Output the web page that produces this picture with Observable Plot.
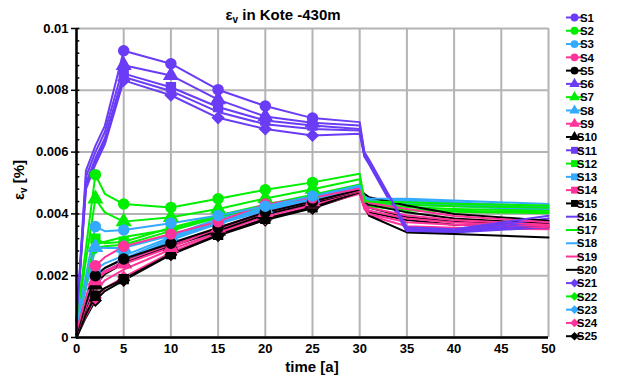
<!DOCTYPE html>
<html><head><meta charset="utf-8">
<script src="https://cdn.jsdelivr.net/npm/d3@7"></script>
<script src="https://cdn.jsdelivr.net/npm/@observablehq/plot@0.6"></script>
<style>body{margin:0;background:#fff}#chart{width:621px;height:378px}</style>
</head><body><div id="chart"></div>
<script>
// time points [a]
const times = [0, 1, 2, 3, 5, 10, 15, 20, 25, 30, 30.5, 31, 35, 40, 50];
// values in units of 0.001 %
const S1  = [0.5, 5.4, 6.2, 6.85, 9.28, 8.86, 8.02, 7.49, 7.10, 6.97, 6.0, 5.75, 3.57, 3.5, 3.94];
const S2  = [0.6, 2.9, 5.27, 4.65, 4.32, 4.21, 4.49, 4.78, 5.02, 5.30, 4.45, 4.4, 4.38, 4.33, 4.27];
const S3  = [0.5, 2.0, 3.59, 3.44, 3.48, 3.70, 3.95, 4.25, 4.58, 4.92, 4.55, 4.5, 4.49, 4.43, 4.32];
const S4  = [0.2, 1.3, 2.32, 2.6, 2.95, 3.35, 3.75, 4.32, 4.52, 4.82, 4.45, 4.35, 4.16, 3.93, 3.73];
const S5  = [0.1, 1.1, 2.0, 2.25, 2.54, 3.05, 3.55, 4.05, 4.40, 4.78, 4.65, 4.54, 4.27, 4.0, 3.78];
const S6  = [0.5, 5.2, 6.0, 6.65, 8.81, 8.48, 7.70, 7.15, 6.95, 6.86, 5.95, 5.7, 3.52, 3.47, 3.85];
const S7  = [0.5, 2.5, 4.49, 4.05, 3.75, 3.89, 4.16, 4.50, 4.80, 5.12, 4.4, 4.38, 4.3, 4.25, 4.2];
const S8  = [0.4, 1.6, 2.92, 2.9, 2.90, 3.30, 3.84, 4.18, 4.52, 4.88, 4.5, 4.47, 4.45, 4.38, 4.22];
const S9  = [0.1, 1.0, 1.84, 2.1, 2.38, 2.92, 3.55, 4.05, 4.40, 4.75, 4.3, 4.2, 3.95, 3.8, 3.65];
const S10 = [0.1, 0.95, 1.7, 2.05, 2.40, 2.95, 3.45, 3.98, 4.35, 4.75, 4.4, 4.3, 4.05, 3.85, 3.68];
const S11 = [0.5, 5.0, 5.8, 6.45, 8.54, 8.10, 7.46, 7.02, 6.86, 6.75, 5.9, 5.68, 3.48, 3.45, 3.75];
const S12 = [0.4, 1.8, 3.2, 3.05, 3.10, 3.55, 3.95, 4.30, 4.62, 4.95, 4.35, 4.32, 4.22, 4.16, 4.1];
const S13 = [0.3, 1.2, 2.2, 2.4, 2.65, 3.25, 3.78, 4.15, 4.50, 4.85, 4.47, 4.44, 4.4, 4.32, 4.18];
const S14 = [0.1, 1.0, 1.9, 2.15, 2.45, 3.0, 3.50, 4.0, 4.35, 4.72, 4.25, 4.1, 3.85, 3.72, 3.6];
const S15 = [0.0, 0.75, 1.35, 1.6, 1.89, 2.70, 3.32, 3.84, 4.21, 4.70, 4.35, 4.2, 3.9, 3.75, 3.6];
const S16 = [0.5, 4.9, 5.7, 6.35, 8.43, 7.98, 7.30, 6.90, 6.75, 6.70, 5.88, 5.65, 3.45, 3.42, 3.65];
const S17 = [0.4, 1.7, 3.0, 3.1, 3.25, 3.50, 3.90, 4.25, 4.58, 4.92, 4.3, 4.28, 4.15, 4.1, 4.05];
const S18 = [0.3, 1.1, 2.0, 2.25, 2.55, 3.20, 3.72, 4.12, 4.47, 4.83, 4.44, 4.4, 4.35, 4.28, 4.15];
const S19 = [0.1, 0.8, 1.5, 1.85, 2.20, 2.85, 3.40, 3.92, 4.30, 4.68, 4.2, 4.0, 3.73, 3.65, 3.57];
const S20 = [0.1, 1.0, 1.8, 2.1, 2.45, 3.0, 3.50, 4.0, 4.38, 4.76, 4.3, 3.94, 3.40, 3.35, 3.24];
const S21 = [0.5, 4.8, 5.6, 6.25, 8.32, 7.84, 7.11, 6.75, 6.54, 6.59, 5.85, 5.6, 3.42, 3.4, 3.57];
const S22 = [0.3, 1.6, 2.9, 2.95, 3.00, 3.45, 3.88, 4.22, 4.55, 4.90, 4.28, 4.25, 4.11, 4.07, 4.02];
const S23 = [0.2, 1.0, 1.9, 2.15, 2.45, 3.15, 3.68, 4.10, 4.45, 4.80, 4.4, 4.36, 4.3, 4.25, 4.12];
const S24 = [0.05, 0.7, 1.28, 1.6, 1.95, 2.75, 3.35, 3.85, 4.25, 4.65, 4.15, 3.95, 3.6, 3.55, 3.5];
const S25 = [0.0, 0.65, 1.2, 1.5, 1.85, 2.68, 3.30, 3.80, 4.18, 4.68, 4.25, 4.05, 3.8, 3.65, 3.55];

const seriesNames = ["S1","S2","S3","S4","S5","S6","S7","S8","S9","S10","S11","S12","S13","S14","S15","S16","S17","S18","S19","S20","S21","S22","S23","S24","S25"];
const seriesValues = [S1,S2,S3,S4,S5,S6,S7,S8,S9,S10,S11,S12,S13,S14,S15,S16,S17,S18,S19,S20,S21,S22,S23,S24,S25];
const palette = ["#6a3cf5", "#00ee00", "#33aaff", "#ff3399", "#000000"];
const symbols = ["circle", "triangle", "square", null, "diamond2"];
const markTimesPurple = [5, 10, 15, 20, 25];
const markTimesOther = [2, 5, 10, 15, 20, 25];
const xTicks = [0, 5, 10, 15, 20, 25, 30, 35, 40, 45, 50];
const yTicks = [0, 0.002, 0.004, 0.006, 0.008, 0.01];
const yMinor = d3.range(0, 0.01001, 0.0004);

const rows = [];
seriesNames.forEach((s, i) => {
  seriesValues[i].forEach((v, j) => rows.push({s, i, t: times[j], v: v * 0.001,
    color: palette[i % 5], symbol: symbols[Math.floor(i / 5)]}));
});
const order = [...seriesNames].reverse();
const lineRows = order.flatMap(s => rows.filter(r => r.s === s));
const dotRows = lineRows.filter(r => r.symbol &&
  (r.i % 5 === 0 ? markTimesPurple : markTimesOther).includes(r.t));

const plot = Plot.plot({
  width: 621, height: 378,
  marginLeft: 76, marginRight: 73, marginTop: 28, marginBottom: 41,
  style: {fontFamily: "'Liberation Sans', Arial, sans-serif", fontSize: "13px", fontWeight: "bold", color: "#000"},
  x: {domain: [0, 50]},
  y: {domain: [0, 0.01]},
  marks: [
    Plot.gridX(xTicks, {stroke: "#b4b4b4", strokeOpacity: 1, strokeWidth: 2}),
    Plot.gridY(yTicks, {stroke: "#b4b4b4", strokeOpacity: 1, strokeWidth: 2}),
    Plot.ruleY(yMinor, {x1: 0, x2: 0.35, stroke: "#000", strokeWidth: 1.5}),
    Plot.axisY(yTicks, {tickSize: 5, tickPadding: 3, strokeWidth: 1.5, label: null,
      tickFormat: d => d === 0 ? "0" : d3.format(".3~f")(d), fontWeight: "bold", fontSize: 13}),
    Plot.axisX(xTicks, {tickSize: 0, tickPadding: 6, label: null, fontWeight: "bold", fontSize: 13}),
    Plot.line(lineRows, {x: "t", y: "v", z: "s", stroke: "color", strokeWidth: 2, curve: "linear"}),
    Plot.dot(dotRows, {x: "t", y: "v", symbol: "symbol", fill: "color", stroke: "color", r: 5}),
    Plot.ruleX([0], {stroke: "#000", strokeWidth: 2.5}),
    Plot.ruleY([0], {stroke: "#000", strokeWidth: 2.5})
  ]
});
document.getElementById("chart").appendChild(plot);

const svg = d3.select(plot);
const font = "'Liberation Sans', Arial, sans-serif";
// title
const title = svg.append("text").attr("x", 283).attr("y", 20).attr("text-anchor", "middle")
  .style("font", `bold 15px ${font}`).attr("fill", "#000");
title.append("tspan").text("ε");
title.append("tspan").text("v").attr("font-size", 10).attr("dy", 3);
title.append("tspan").text(" in Kote -430m").attr("dy", -3);
// x label
svg.append("text").attr("x", 312).attr("y", 372).attr("text-anchor", "middle")
  .style("font", `bold 15px ${font}`).text("time [a]");
// y label
const yl = svg.append("text").attr("transform", "translate(24,180) rotate(-90)").attr("text-anchor", "middle")
  .style("font", `bold 15px ${font}`);
yl.append("tspan").text("ε");
yl.append("tspan").text("v").attr("font-size", 10).attr("dy", 3);
yl.append("tspan").text(" [%]").attr("dy", -3);
// legend
const lg = svg.append("g");
const symMap = {circle: d3.symbolCircle, triangle: d3.symbolTriangle, square: d3.symbolSquare, diamond2: d3.symbolDiamond2};
seriesNames.forEach((s, i) => {
  const y = 17.5 + i * 13.28;
  const c = palette[i % 5];
  const sym = symbols[Math.floor(i / 5)];
  lg.append("line").attr("x1", 566).attr("x2", 583).attr("y1", y).attr("y2", y).attr("stroke", c).attr("stroke-width", 2);
  if (sym) {
    lg.append("path").attr("d", d3.symbol(symMap[sym], 48)()).attr("transform", `translate(574.5,${y})`).attr("fill", c);
  }
  lg.append("text").attr("x", 587).attr("y", y + 4.2).style("font", `bold 11.5px ${font}`).attr("fill", "#000").text(s);
});
</script></body></html>
